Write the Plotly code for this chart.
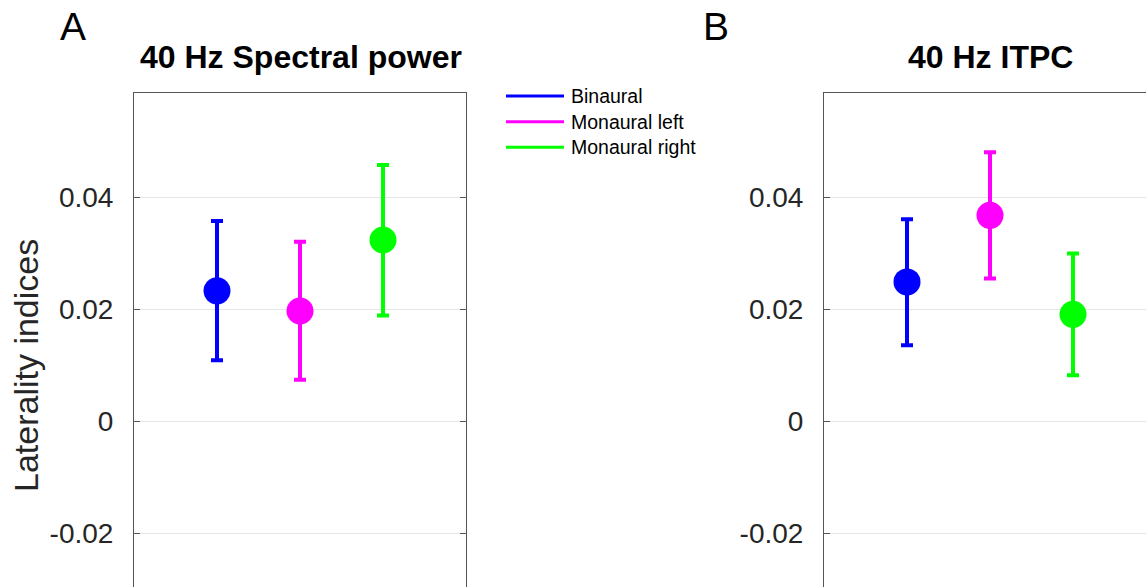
import plotly.graph_objects as go

# ---- data ----
conditions = ["Binaural", "Monaural left", "Monaural right"]
colors = ["#0000ff", "#ff00ff", "#00ff00"]
x_pos = [1, 2, 3]

power_mean = [0.0233, 0.0197, 0.0324]
power_upper = [0.0358, 0.0321, 0.0458]
power_lower = [0.0109, 0.0074, 0.0189]

itpc_mean = [0.0249, 0.0368, 0.0191]
itpc_upper = [0.0361, 0.0481, 0.0300]
itpc_lower = [0.0136, 0.0255, 0.0082]

titles = ["40 Hz Spectral power", "40 Hz ITPC"]
panel_letters = ["A", "B"]
ytick_vals = [-0.02, 0, 0.02, 0.04]
ytick_text = ["-0.02", "0", "0.02", "0.04"]
ylabel = "Laterality indices"

W, H = 1146, 587
FONT = "Liberation Sans, Arial, Helvetica, sans-serif"
TXT = "#262626"
AX = "#555555"
GRID = "#e5e5e5"

fig = go.Figure()

def add_panel(means, upper, lower, xa, ya):
    for i in range(len(conditions)):
        fig.add_trace(go.Scatter(
            x=[x_pos[i]], y=[means[i]], mode="markers",
            marker=dict(size=27, color=colors[i], line=dict(width=0)),
            error_y=dict(type="data", symmetric=False,
                         array=[upper[i] - means[i]],
                         arrayminus=[means[i] - lower[i]],
                         color=colors[i], thickness=4, width=6),
            name=conditions[i], showlegend=False,
            xaxis=xa, yaxis=ya))

add_panel(power_mean, power_upper, power_lower, "x", "y")
add_panel(itpc_mean, itpc_upper, itpc_lower, "x2", "y2")

# geometry (pixels)
top_px = 92.5
left1, right1 = 134, 466
left2 = 824
unit_px = (right1 - left1) / 4.0
zero_px = 421.2
px_per = 111.87 / 0.02
y_top = (zero_px - top_px) / px_per
y_bot = -(H - zero_px) / px_per
ydom = [0, 1 - top_px / H]

yaxis_common = dict(
    range=[y_bot, y_top], tickvals=ytick_vals, ticktext=ytick_text,
    ticks="inside", ticklen=6, tickwidth=1, tickcolor=AX,
    showline=True, linecolor=AX, linewidth=1,
    showgrid=True, gridcolor=GRID, gridwidth=1, zeroline=False,
    tickfont=dict(family=FONT, size=28, color=TXT),
    ticklabelstandoff=14, domain=ydom,
)
xaxis_common = dict(
    side="top", showline=True, linecolor=AX, linewidth=1,
    showticklabels=False, ticks="", showgrid=False, zeroline=False,
)

fig.update_layout(
    width=W, height=H,
    margin=dict(l=0, r=0, t=0, b=0),
    paper_bgcolor="white", plot_bgcolor="white",
    showlegend=False,
    xaxis=dict(domain=[left1 / W, right1 / W], range=[0, 4], anchor="y", **xaxis_common),
    yaxis=dict(anchor="x", mirror="ticks", **yaxis_common),
    xaxis2=dict(domain=[left2 / W, 1], range=[0, (W - left2) / unit_px], anchor="y2", **xaxis_common),
    yaxis2=dict(anchor="x2", mirror=False, **yaxis_common),
)

annotations = []
# titles
title_x = [(left1 + right1) / 2 + 1, left2 + (right1 - left1) / 2]
for t, cx in zip(titles, title_x):
    annotations.append(dict(text="<b>" + t + "</b>", x=cx / W, y=1 - 57 / H,
                            xref="paper", yref="paper", xanchor="center", yanchor="middle",
                            showarrow=False, font=dict(family=FONT, size=32, color="black")))
# panel letters
for L, lx in zip(panel_letters, [73, 716]):
    annotations.append(dict(text=L, x=lx / W, y=1 - 26 / H, xref="paper", yref="paper",
                            xanchor="center", yanchor="middle", showarrow=False,
                            font=dict(family=FONT, size=39, color="black")))
# y label
annotations.append(dict(text=ylabel, x=26 / W, y=1 - 366 / H, xref="paper", yref="paper",
                        xanchor="center", yanchor="middle", textangle=-90, showarrow=False,
                        font=dict(family=FONT, size=34, color=TXT)))

# manual legend
shapes = []
leg_y = [96, 121.7, 147.3]
for name, col, ly in zip(conditions, colors, leg_y):
    shapes.append(dict(type="line", xref="paper", yref="paper",
                       x0=506 / W, x1=564 / W, y0=1 - ly / H, y1=1 - ly / H,
                       line=dict(color=col, width=3)))
    annotations.append(dict(text=name, x=569 / W, y=1 - ly / H, xref="paper", yref="paper",
                            xanchor="left", yanchor="middle", showarrow=False,
                            font=dict(family=FONT, size=19.5, color="black")))

fig.update_layout(annotations=annotations, shapes=shapes)

fig.write_html("out.html")
